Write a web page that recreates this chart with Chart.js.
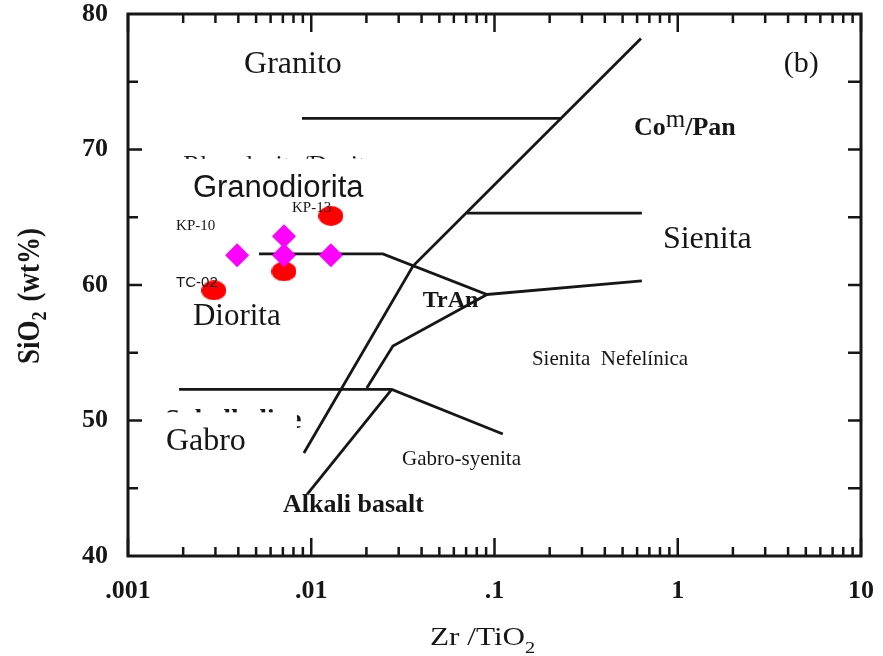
<!DOCTYPE html>
<html>
<head>
<meta charset="utf-8">
<script src="https://cdn.jsdelivr.net/npm/chart.js@4.4.1/dist/chart.umd.min.js"></script>
<style>
  html, body { margin: 0; padding: 0; background: #fff; }
  #wrap { width: 883px; height: 656px; }
</style>
</head>
<body>
<div id="wrap"><canvas id="diagram" width="883" height="656"></canvas></div>
<script>
// Zr/TiO2 vs SiO2 classification diagram
const ratioTicks = [0.001, 0.01, 0.1, 1, 10];
const ratioTickLabels = [".001", ".01", ".1", "1", "10"];
const silicaTicks = [40, 50, 60, 70, 80];

// samples
const ellipseZr = [0.0128, 0.0071, 0.00294];
const ellipseSi = [65.1, 61.0, 59.6];
const diamondZr = [0.00394, 0.0071, 0.0071, 0.0128];
const diamondSi = [62.2, 63.6, 62.2, 62.2];

// field boundaries
const granitoZr = [0.0089, 0.232];
const granitoSi = [72.3, 72.3];
const outerZr = [0.63, 0.0359, 0.00912];
const outerSi = [78.2, 61.4, 47.6];
const sienitaZr = [0.0706, 0.637];
const sienitaSi = [65.3, 65.3];
const dioritaZr = [0.00519, 0.0246, 0.091, 0.637];
const dioritaSi = [62.3, 62.3, 59.3, 60.3];
const innerZr = [0.091, 0.0279, 0.0201];
const innerSi = [59.3, 55.5, 52.4];
const gabroZr = [0.0019, 0.0275, 0.111];
const gabroSi = [52.3, 52.3, 49.0];
const basaltZr = [0.0275, 0.00949];
const basaltSi = [52.3, 44.55];

const ink = "#161616";
const serif = "'Liberation Serif', 'Times New Roman', serif";
const sans = "'Liberation Sans', Arial, sans-serif";

// field names, anchored at left / baseline in data units
const fieldNotes = [
    { text: "Granito", x: 0.0043, y: 75.65, font: "32px " + serif },
    { text: "Diorita", x: 0.00226, y: 57.08, font: "31px " + serif },
    { text: "Gabro", x: 0.00161, y: 47.8, font: "32px " + serif },
    { text: "Alkali basalt", x: 0.00702, y: 43.23, font: "bold 26px " + serif },
    { text: "Gabro-syenita", x: 0.0313, y: 46.69, font: "21px " + serif },
    { text: "Sienita  Nefelínica", x: 0.16, y: 54.13, font: "21px " + serif },
    { text: "Sienita", x: 0.83, y: 62.76, font: "32px " + serif },
    { text: "TrAn", x: 0.0406, y: 58.41, font: "bold 24px " + serif },
    { text: "(b)", x: 3.79, y: 75.73, font: "30px " + serif }
];
const sampleNotes = [
    { text: "KP-13", x: 0.00785, y: 65.41, font: "15px " + serif },
    { text: "KP-10", x: 0.00183, y: 64.08, font: "15px " + serif },
    { text: "TC-02", x: 0.00183, y: 59.88, font: "15px " + sans }
];

function pairs(xs, ys) {
    return xs.map((v, i) => ({ x: v, y: ys[i] }));
}

function ellipseImage(w, h, color) {
    const c = document.createElement("canvas");
    c.width = w; c.height = h;
    const g = c.getContext("2d");
    g.fillStyle = color;
    g.beginPath();
    g.ellipse(w / 2, h / 2, w / 2, h / 2, 0, 0, Math.PI * 2);
    g.fill();
    return c;
}

function boundary(xs, ys) {
    return {
        data: pairs(xs, ys),
        showLine: true,
        borderColor: ink,
        borderWidth: 2.8,
        pointRadius: 0,
        fill: false,
        tension: 0
    };
}

function noteAt(ctx, sx, sy, n) {
    ctx.font = n.font;
    ctx.fillText(n.text, sx.getPixelForValue(n.x), sy.getPixelForValue(n.y));
}

// labels half hidden under white boxes, as in the source figure
function maskedText(ctx, sx, sy, text, font, x, y, box) {
    ctx.font = font;
    ctx.fillStyle = ink;
    ctx.fillText(text, sx.getPixelForValue(x), sy.getPixelForValue(y));
    const x0 = sx.getPixelForValue(box[0]), x1 = sx.getPixelForValue(box[1]);
    const y0 = sy.getPixelForValue(box[2]), y1 = sy.getPixelForValue(box[3]);
    ctx.fillStyle = "#fff";
    ctx.fillRect(x0, y0, x1 - x0, y1 - y0);
}

const fieldPlugin = {
    id: "fields",
    beforeDatasetsDraw(chart) {
        const ctx = chart.ctx, sx = chart.scales.x, sy = chart.scales.y;
        ctx.save();
        ctx.textBaseline = "alphabetic";
        ctx.textAlign = "left";
        maskedText(ctx, sx, sy, "Rhyodacite/Dacite", "26px " + serif, 0.002, 68.3, [0.0018, 0.0324, 69.31, 66.2]);
        maskedText(ctx, sx, sy, "Subalkaline", "bold 27px " + serif, 0.00159, 49.45, [0.00149, 0.00835, 50.6, 45.8]);
        ctx.fillStyle = ink;
        fieldNotes.forEach(n => noteAt(ctx, sx, sy, n));
        ctx.font = "31px " + sans;
        ctx.fillText("Granodiorita", sx.getPixelForValue(0.00226), sy.getPixelForValue(66.51));
        // Co^m/Pan
        let px = sx.getPixelForValue(0.577);
        const py = sy.getPixelForValue(71.08);
        ctx.font = "bold 26px " + serif;
        ctx.fillText("Co", px, py);
        px += ctx.measureText("Co").width;
        ctx.font = "25px " + serif;
        ctx.fillText("m", px, py - 8);
        px += ctx.measureText("m").width;
        ctx.font = "bold 26px " + serif;
        ctx.fillText("/Pan", px, py);
        ctx.restore();
    },
    afterDatasetsDraw(chart) {
        const ctx = chart.ctx, sx = chart.scales.x, sy = chart.scales.y;
        ctx.save();
        ctx.fillStyle = ink;
        ctx.textBaseline = "alphabetic";
        sampleNotes.forEach(n => noteAt(ctx, sx, sy, n));
        ctx.restore();
    },
    afterDraw(chart) {
        const ctx = chart.ctx, sx = chart.scales.x, sy = chart.scales.y;
        const { left, right, top, bottom } = chart.chartArea;
        ctx.save();
        ctx.strokeStyle = ink;
        ctx.lineWidth = 2.5;
        ctx.beginPath();
        for (let k = -3; k <= 1; k++) {
            for (let m = 1; m <= 9; m++) {
                const v = m * Math.pow(10, k);
                if (v > 10.001) break;
                const p = sx.getPixelForValue(v);
                const len = m === 1 ? 18 : 9;
                ctx.moveTo(p, bottom); ctx.lineTo(p, bottom - len);
                ctx.moveTo(p, top); ctx.lineTo(p, top + len);
            }
        }
        for (let v = 45; v < 80; v += 5) {
            const p = sy.getPixelForValue(v);
            const major = v % 10 === 0;
            ctx.moveTo(left, p); ctx.lineTo(left + (major ? 14 : 10), p);
            ctx.moveTo(right, p); ctx.lineTo(right - 13, p);
        }
        ctx.stroke();
        ctx.lineWidth = 3;
        ctx.strokeRect(left, top, right - left, bottom - top);

        // axis titles, slightly stretched like the scanned original
        ctx.fillStyle = ink;
        ctx.textBaseline = "alphabetic";
        ctx.save();
        ctx.translate(430, 645);
        ctx.scale(1.2, 1);
        ctx.font = "26px " + serif;
        ctx.fillText("Zr /TiO", 0, 0);
        const w = ctx.measureText("Zr /TiO").width;
        ctx.font = "17px " + serif;
        ctx.fillText("2", w, 8);
        ctx.restore();

        ctx.save();
        ctx.translate(28, 296);
        ctx.rotate(-Math.PI / 2);
        ctx.scale(1, 1.2);
        ctx.font = "bold 27px " + serif;
        const a = ctx.measureText("SiO").width;
        const b = ctx.measureText("(wt%)").width;
        ctx.font = "bold 18px " + serif;
        const c = ctx.measureText("2").width;
        const total = a + c + 10 + b;
        let p = -total / 2;
        ctx.font = "bold 27px " + serif;
        ctx.fillText("SiO", p, 9);
        p += a;
        ctx.font = "bold 18px " + serif;
        ctx.fillText("2", p, 15);
        p += c + 10;
        ctx.font = "bold 27px " + serif;
        ctx.fillText("(wt%)", p, 9);
        ctx.restore();
        ctx.restore();
    }
};

const ctx = document.getElementById("diagram").getContext("2d");
new Chart(ctx, {
    type: "scatter",
    data: {
        datasets: [
            {
                data: pairs(diamondZr, diamondSi),
                pointStyle: "rectRot",
                pointRadius: 12,
                backgroundColor: "#ff00ff",
                borderColor: "#ff00ff",
                borderWidth: 0
            },
            {
                data: pairs(ellipseZr, ellipseSi),
                pointStyle: ellipseImage(25, 20, "#ff0000"),
                pointRadius: 12
            },
            boundary(granitoZr, granitoSi),
            boundary(outerZr, outerSi),
            boundary(sienitaZr, sienitaSi),
            boundary(dioritaZr, dioritaSi),
            boundary(innerZr, innerSi),
            boundary(gabroZr, gabroSi),
            boundary(basaltZr, basaltSi)
        ]
    },
    options: {
        responsive: false,
        animation: false,
        layout: { padding: { top: 14, right: 22, left: 0, bottom: 0 } },
        plugins: {
            legend: { display: false },
            tooltip: { enabled: false }
        },
        scales: {
            x: {
                type: "logarithmic",
                min: 0.001,
                max: 10,
                afterFit: s => { s.height = 100; s.paddingLeft = 0; s.paddingRight = 0; },
                afterBuildTicks: s => { s.ticks = ratioTicks.map(v => ({ value: v })); },
                ticks: {
                    autoSkip: false,
                    maxRotation: 0,
                    padding: 20,
                    color: ink,
                    font: { family: serif, size: 26, weight: "bold" },
                    callback: (v, i) => ratioTickLabels[i]
                },
                grid: { display: false, drawTicks: false },
                border: { display: false }
            },
            y: {
                min: 40,
                max: 80,
                afterFit: s => { s.width = 128; s.paddingTop = 0; s.paddingBottom = 0; },
                afterBuildTicks: s => { s.ticks = silicaTicks.map(v => ({ value: v })); },
                ticks: {
                    padding: 20,
                    color: ink,
                    font: { family: serif, size: 26, weight: "bold" }
                },
                grid: { display: false, drawTicks: false },
                border: { display: false }
            }
        }
    },
    plugins: [fieldPlugin]
});
</script>
</body>
</html>
